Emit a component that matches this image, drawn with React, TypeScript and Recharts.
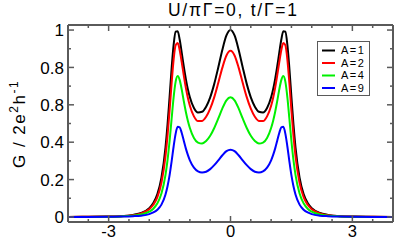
import React from 'react';
import { LineChart, Line, XAxis, YAxis, Customized } from 'recharts';

const xValues = [-4, -3.5, -3, -2.7, -2.4, -2.2, -2, -1.9, -1.8, -1.7, -1.6, -1.55, -1.5, -1.45, -1.4, -1.35, -1.3, -1.25, -1.2, -1.15, -1.1, -1.05, -1, -0.9, -0.8, -0.7, -0.6, -0.5, -0.4, -0.3, -0.2, -0.1, 0, 0.1, 0.2, 0.3, 0.4, 0.5, 0.6, 0.7, 0.8, 0.9, 1, 1.05, 1.1, 1.15, 1.2, 1.25, 1.3, 1.35, 1.4, 1.45, 1.5, 1.55, 1.6, 1.7, 1.8, 1.9, 2, 2.2, 2.4, 2.7, 3, 3.5, 4];

const gA1 = [0.000, 0.001, 0.002, 0.004, 0.011, 0.021, 0.047, 0.074, 0.122, 0.210, 0.373, 0.494, 0.640, 0.793, 0.921, 0.991, 0.994, 0.948, 0.878, 0.805, 0.739, 0.684, 0.640, 0.583, 0.559, 0.563, 0.590, 0.640, 0.712, 0.801, 0.895, 0.971, 1.000, 0.971, 0.895, 0.801, 0.712, 0.640, 0.590, 0.563, 0.559, 0.583, 0.640, 0.684, 0.739, 0.805, 0.878, 0.948, 0.994, 0.991, 0.921, 0.793, 0.640, 0.494, 0.373, 0.210, 0.122, 0.074, 0.047, 0.021, 0.011, 0.004, 0.002, 0.001, 0.000];

const gA2 = [0.000, 0.001, 0.002, 0.004, 0.009, 0.019, 0.041, 0.065, 0.106, 0.183, 0.326, 0.435, 0.568, 0.714, 0.842, 0.919, 0.931, 0.892, 0.827, 0.757, 0.692, 0.638, 0.595, 0.538, 0.513, 0.514, 0.536, 0.579, 0.641, 0.718, 0.799, 0.864, 0.889, 0.864, 0.799, 0.718, 0.641, 0.579, 0.536, 0.514, 0.513, 0.538, 0.595, 0.638, 0.692, 0.757, 0.827, 0.892, 0.931, 0.919, 0.842, 0.714, 0.568, 0.435, 0.326, 0.183, 0.106, 0.065, 0.041, 0.019, 0.009, 0.004, 0.002, 0.001, 0.000];

const gA4 = [0.000, 0.000, 0.001, 0.003, 0.007, 0.013, 0.028, 0.044, 0.073, 0.125, 0.225, 0.304, 0.405, 0.524, 0.640, 0.724, 0.754, 0.732, 0.681, 0.620, 0.563, 0.515, 0.476, 0.423, 0.398, 0.393, 0.406, 0.434, 0.476, 0.527, 0.581, 0.624, 0.640, 0.624, 0.581, 0.527, 0.476, 0.434, 0.406, 0.393, 0.398, 0.423, 0.476, 0.515, 0.563, 0.620, 0.681, 0.732, 0.754, 0.724, 0.640, 0.524, 0.405, 0.304, 0.225, 0.125, 0.073, 0.044, 0.028, 0.013, 0.007, 0.003, 0.001, 0.000, 0.000];

const gA9 = [0.000, 0.000, 0.001, 0.002, 0.004, 0.007, 0.015, 0.024, 0.039, 0.066, 0.120, 0.164, 0.222, 0.296, 0.377, 0.446, 0.482, 0.479, 0.449, 0.408, 0.367, 0.332, 0.303, 0.264, 0.244, 0.238, 0.242, 0.256, 0.277, 0.303, 0.330, 0.352, 0.360, 0.352, 0.330, 0.303, 0.277, 0.256, 0.242, 0.238, 0.244, 0.264, 0.303, 0.332, 0.367, 0.408, 0.449, 0.479, 0.482, 0.446, 0.377, 0.296, 0.222, 0.164, 0.120, 0.066, 0.039, 0.024, 0.015, 0.007, 0.004, 0.002, 0.001, 0.000, 0.000];

const seriesKeys = ['a1', 'a2', 'a4', 'a9'];
const seriesNames = ['A=1', 'A=2', 'A=4', 'A=9'];
const seriesColors = ['#000000', '#ff0000', '#00f000', '#0000ff'];

const xTicks = [-4, -3.5, -3, -2.5, -2, -1.5, -1, -0.5, 0, 0.5, 1, 1.5, 2, 2.5, 3, 3.5, 4];
const xMajor = [-3, 0, 3];
const xMajorLabels = ['-3', '0', '3'];

const yTicks = [0, 0.1, 0.2, 0.3, 0.4, 0.5, 0.6, 0.7, 0.8, 0.9, 1.0];
const yMajor = [0, 0.2, 0.4, 0.6, 0.8, 1.0];
const yMajorLabels = ['0', '0.2', '0.4', '0.8', '0.8', '1'];

const titleText = 'U/\u03C0\u0393=0, t/\u0393=1';

const data = xValues.map((x, i) => ({ x, a1: gA1[i], a2: gA2[i], a4: gA4[i], a9: gA9[i] }));

const FONT = '"Liberation Sans", Arial, Helvetica, sans-serif';
const FRAME = '#5a5a5a';

const findMajor = (v: number, majors: number[]) => majors.findIndex((m) => Math.abs(m - v) < 1e-6);

const BottomTick = (props: any) => {
  const { x, y, payload } = props;
  const idx = findMajor(payload.value, xMajor);
  const len = idx >= 0 ? 6 : 3;
  return (
    <g>
      <line x1={x} x2={x} y1={y} y2={y - len} stroke={FRAME} strokeWidth={1.5} />
      {idx >= 0 && (
        <text x={x} y={y + 15} textAnchor="middle" fontSize={16.5} fontFamily={FONT} fill="#000">
          {xMajorLabels[idx]}
        </text>
      )}
    </g>
  );
};

const TopTick = (props: any) => {
  const { x, y, payload } = props;
  const idx = findMajor(payload.value, xMajor);
  const len = idx >= 0 ? 6 : 3;
  return <line x1={x} x2={x} y1={y} y2={y + len} stroke={FRAME} strokeWidth={1.5} />;
};

const LeftTick = (props: any) => {
  const { x, y, payload } = props;
  const idx = findMajor(payload.value, yMajor);
  const len = idx >= 0 ? 6 : 3;
  return (
    <g>
      <line x1={x} x2={x + len} y1={y} y2={y} stroke={FRAME} strokeWidth={1.5} />
      {idx >= 0 && (
        <text x={x - 4} y={y} dy="0.36em" textAnchor="end" fontSize={17} fontFamily={FONT} fill="#000">
          {yMajorLabels[idx]}
        </text>
      )}
    </g>
  );
};

const RightTick = (props: any) => {
  const { x, y, payload } = props;
  const idx = findMajor(payload.value, yMajor);
  const len = idx >= 0 ? 6 : 3;
  return <line x1={x} x2={x - len} y1={y} y2={y} stroke={FRAME} strokeWidth={1.5} />;
};

const Overlay = () => (
  <g>
    <text x={232.5} y={16} textAnchor="middle" fontSize={17.5} fontFamily={FONT} fill="#000" textLength={129} lengthAdjust="spacing">
      {titleText}
    </text>
    <text
      x={25}
      y={124}
      transform="rotate(-90, 25, 124)"
      textAnchor="middle"
      fontSize={17}
      fontFamily={FONT}
      fill="#000"
      letterSpacing={1.5}
    >
      <tspan>G / 2e</tspan>
      <tspan fontSize={12} dy={-7}>2</tspan>
      <tspan dy={7}>h</tspan>
      <tspan fontSize={12} dy={-7}>-1</tspan>
    </text>
    <rect x={317.5} y={41.5} width={52} height={54} fill="#fff" stroke={FRAME} strokeWidth={1} />
    {seriesNames.map((name, i) => {
      const cy = 50.5 + i * 12.5;
      return (
        <g key={name}>
          <line x1={322} x2={335} y1={cy} y2={cy} stroke={seriesColors[i]} strokeWidth={2} />
          <text x={341} y={cy} dy="0.36em" fontSize={11} fontFamily={FONT} fill="#000" letterSpacing={1.5}>
            {name}
          </text>
        </g>
      );
    })}
  </g>
);

export default function App() {
  return (
    <div style={{ position: 'absolute', left: 0, top: 0, width: 395, height: 240, background: '#fff' }}>
      <LineChart width={395} height={240} data={data} margin={{ top: 0, right: 0, bottom: 0, left: 0 }}>
        <XAxis
          xAxisId="b"
          dataKey="x"
          type="number"
          domain={[-4, 4]}
          ticks={xTicks}
          interval={0}
          allowDataOverflow
          height={18}
          tickSize={0}
          tickMargin={0}
          tickLine={false}
          axisLine={{ stroke: FRAME, strokeWidth: 2 }}
          tick={<BottomTick />}
        />
        <XAxis
          xAxisId="t"
          orientation="top"
          dataKey="x"
          type="number"
          domain={[-4, 4]}
          ticks={xTicks}
          interval={0}
          allowDataOverflow
          height={25}
          tickSize={0}
          tickMargin={0}
          tickLine={false}
          axisLine={{ stroke: FRAME, strokeWidth: 2 }}
          tick={<TopTick />}
        />
        <YAxis
          yAxisId="l"
          type="number"
          domain={[-0.027, 1.027]}
          ticks={yTicks}
          interval={0}
          allowDataOverflow
          width={68}
          tickSize={0}
          tickMargin={0}
          tickLine={false}
          axisLine={{ stroke: FRAME, strokeWidth: 2 }}
          tick={<LeftTick />}
        />
        <YAxis
          yAxisId="r"
          orientation="right"
          type="number"
          domain={[-0.027, 1.027]}
          ticks={yTicks}
          interval={0}
          allowDataOverflow
          width={2}
          tickSize={0}
          tickMargin={0}
          tickLine={false}
          axisLine={{ stroke: FRAME, strokeWidth: 2 }}
          tick={<RightTick />}
        />
        {seriesKeys.map((k, i) => (
          <Line
            key={k}
            xAxisId="b"
            yAxisId="l"
            dataKey={k}
            name={seriesNames[i]}
            type="monotone"
            stroke={seriesColors[i]}
            strokeWidth={2}
            dot={false}
            activeDot={false}
            isAnimationActive={false}
          />
        ))}
        <Customized component={Overlay} />
      </LineChart>
    </div>
  );
}
